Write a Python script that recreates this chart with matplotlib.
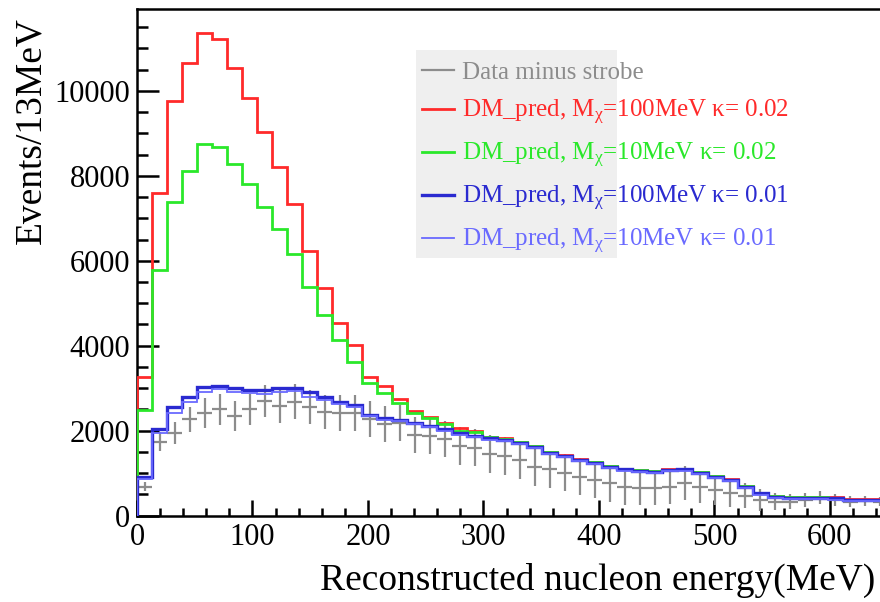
import numpy as np
import matplotlib
matplotlib.use("Agg")
import matplotlib.pyplot as plt
from matplotlib.lines import Line2D
from matplotlib.patches import Rectangle
from matplotlib.ticker import MultipleLocator

plt.rcParams['font.family'] = ['Liberation Serif', 'DejaVu Serif']
plt.rcParams['mathtext.fontset'] = 'custom'
plt.rcParams['mathtext.rm'] = 'Liberation Serif'
plt.rcParams['mathtext.it'] = 'Liberation Serif'

# 13 MeV bins from 0 to 650 MeV
edges = np.arange(0, 651, 13)
centers = edges[:-1] + 6.5

red = [3270, 7590, 9760, 10660, 11370, 11230, 10530, 9820, 9035, 8210,
       7330, 6240, 5350, 4530, 4020, 3270, 3050, 2750, 2460, 2330,
       2190, 2060, 1990, 1860, 1820, 1740, 1645, 1500, 1425, 1330,
       1270, 1175, 1110, 1080, 1055, 1095, 1110, 1030, 940, 860,
       705, 545, 470, 445, 445, 445, 430, 390, 390, 390]
green = [2490, 5780, 7390, 8120, 8745, 8685, 8275, 7800, 7255, 6740,
         6150, 5390, 4720, 4135, 3625, 3115, 2895, 2650, 2420, 2290,
         2150, 1990, 1960, 1845, 1810, 1730, 1635, 1490, 1415, 1320,
         1260, 1165, 1100, 1070, 1045, 1085, 1100, 1020, 930, 850,
         695, 535, 460, 435, 435, 435, 420, 380, 380, 380]
blue_dark = [920, 2030, 2550, 2800, 3020, 3060, 3000, 2960, 2960, 3000,
             3000, 2900, 2790, 2680, 2600, 2370, 2290, 2260, 2190, 2120,
             2030, 1940, 1875, 1820, 1780, 1720, 1625, 1480, 1405, 1310,
             1250, 1155, 1090, 1060, 1035, 1075, 1090, 1010, 920, 840,
             685, 525, 450, 425, 425, 425, 410, 370, 370, 370]
blue_light = [870, 1940, 2410, 2680, 2920, 2975, 2920, 2895, 2855, 2920,
              2940, 2800, 2720, 2630, 2550, 2340, 2260, 2230, 2160, 2090,
              2000, 1910, 1845, 1790, 1750, 1690, 1595, 1450, 1375, 1280,
              1220, 1125, 1060, 1030, 1005, 1045, 1060, 980, 890, 810,
              655, 495, 420, 395, 395, 395, 380, 345, 345, 345]
data = [683, 1740, 1940, 2270, 2410, 2500, 2345, 2500, 2700, 2580,
        2685, 2565, 2430, 2420, 2410, 2270, 2160, 2175, 1900, 1870,
        1800, 1640, 1600, 1450, 1405, 1310, 1140, 1090, 1010, 920,
        840, 760, 685, 660, 660, 685, 780, 668, 605, 540,
        470, 370, 330, 330, 370, 425, 370, 330, 350, 330]
data_err = [100, 220, 260, 290, 350, 370, 360, 370, 380, 390,
            420, 400, 400, 420, 420, 420, 420, 420, 430, 430,
            430, 440, 440, 440, 440, 440, 440, 440, 440, 430,
            430, 430, 430, 420, 420, 420, 400, 380, 350, 330,
            300, 250, 200, 180, 160, 150, 140, 130, 120, 110]

labels = ['Data minus strobe',
          'DM_pred, M$_{\\mathrm{\u03c7}}$=100MeV \u03ba= 0.02',
          'DM_pred, M$_{\\mathrm{\u03c7}}$=10MeV \u03ba= 0.02',
          'DM_pred, M$_{\\mathrm{\u03c7}}$=100MeV \u03ba= 0.01',
          'DM_pred, M$_{\\mathrm{\u03c7}}$=10MeV \u03ba= 0.01']
c_data = '#8c8c8c'
c_red = '#ff2a2a'
c_green = '#2ae82a'
c_dblue = '#2a2ad0'
c_lblue = '#6a6aff'

fig = plt.figure(figsize=(8.8, 6.02), dpi=100)
ax = fig.add_axes([0.1557, 0.1434, 0.853, 0.8412])

ax.errorbar(centers, data, xerr=6.5, yerr=data_err, fmt='none',
            ecolor=c_data, elinewidth=1.6, capsize=0, zorder=2)
ax.stairs(red, edges, color=c_red, linewidth=2.0, zorder=3)
ax.stairs(green, edges, color=c_green, linewidth=2.0, zorder=3)
ax.stairs(blue_dark, edges, color=c_dblue, linewidth=2.4, zorder=3)
ax.stairs(blue_light, edges, color=c_lblue, linewidth=1.3, zorder=4)

ax.set_xlim(0, 650)
ax.set_ylim(0, 11920)
ax.xaxis.set_major_locator(MultipleLocator(100))
ax.xaxis.set_minor_locator(MultipleLocator(20))
ax.yaxis.set_major_locator(MultipleLocator(2000))
ax.yaxis.set_minor_locator(MultipleLocator(500))

ax.tick_params(axis='both', which='both', direction='in', top=False, right=False,
               labelsize=22, width=1.8)
ax.tick_params(axis='y', which='major', length=16, pad=5)
ax.tick_params(axis='y', which='minor', length=8)
ax.tick_params(axis='x', which='major', length=11.5, pad=5)
ax.tick_params(axis='x', which='minor', length=6)
for s in ax.spines.values():
    s.set_linewidth(1.8)

ax.set_xlabel('Reconstructed nucleon energy(MeV)', fontsize=27, loc='right')
ax.xaxis.set_label_coords(0.984, -0.093)
ax.set_ylabel('Events/13MeV', fontsize=27, loc='top')
ax.yaxis.set_label_coords(-0.118, 0.985)

# legend background only covers part of the text, as in the original
ax.add_patch(Rectangle((0.3715, 0.509), 0.2675, 0.411, transform=ax.transAxes,
                       facecolor='#efefef', edgecolor='none', zorder=1))
handles = [Line2D([], [], color=c_data, linewidth=1.6),
           Line2D([], [], color=c_red, linewidth=2.0),
           Line2D([], [], color=c_green, linewidth=2.0),
           Line2D([], [], color=c_dblue, linewidth=2.4),
           Line2D([], [], color=c_lblue, linewidth=1.3)]
leg = ax.legend(handles, labels, loc='upper left', bbox_to_anchor=(0.379, 0.897),
                frameon=False, fontsize=18, handlelength=1.3, handletextpad=0.3,
                labelspacing=0.56, borderpad=0, borderaxespad=0)
for t, h in zip(leg.get_texts(), handles):
    t.set_color(h.get_color())

fig.savefig('out.png', dpi=100)
